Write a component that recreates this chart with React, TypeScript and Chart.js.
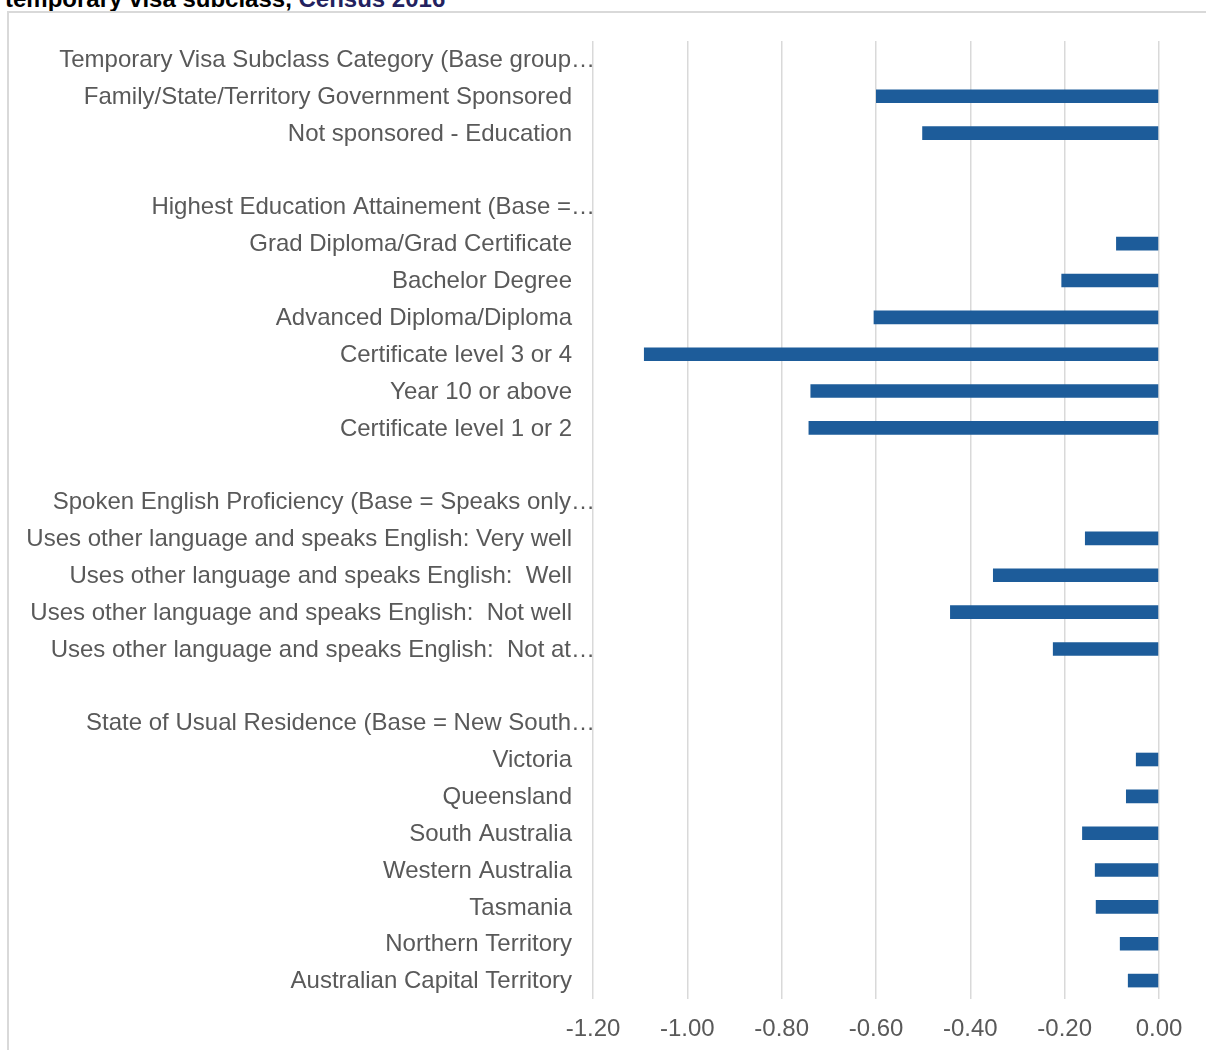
import React, { useEffect, useRef } from "react";
import { Chart, registerables } from "chart.js";

Chart.register(...registerables);

const categoryLabels: string[] = [
  "Temporary Visa Subclass Category (Base group…",
  "Family/State/Territory Government Sponsored",
  "Not sponsored - Education",
  "",
  "Highest Education Attainement (Base =…",
  "Grad Diploma/Grad Certificate",
  "Bachelor Degree",
  "Advanced Diploma/Diploma",
  "Certificate level 3 or 4",
  "Year 10 or above",
  "Certificate level 1 or 2",
  "",
  "Spoken English Proficiency (Base = Speaks only…",
  "Uses other language and speaks English: Very well",
  "Uses other language and speaks English:  Well",
  "Uses other language and speaks English:  Not well",
  "Uses other language and speaks English:  Not at…",
  "",
  "State of Usual Residence (Base = New South…",
  "Victoria",
  "Queensland",
  "South Australia",
  "Western Australia",
  "Tasmania",
  "Northern Territory",
  "Australian Capital Territory",
];

const coefficientValues: (number | null)[] = [
  null, -0.6, -0.502, null,
  null, -0.091, -0.207, -0.605, -1.092, -0.739, -0.743, null,
  null, -0.157, -0.352, -0.443, -0.225, null,
  null, -0.049, -0.07, -0.163, -0.136, -0.134, -0.083, -0.066,
];

const xMin = -1.2;
const xMax = 0;
const xStep = 0.2;

const LABEL_FONT = '24px "Liberation Sans", Arial, sans-serif';
const LABEL_COLOR = "#595959";

const categoryLabelPlugin = {
  id: "categoryLabels",
  afterDraw(chart: any) {
    const { ctx, chartArea } = chart;
    const yScale = chart.scales.y;
    ctx.save();
    ctx.font = LABEL_FONT;
    ctx.fillStyle = LABEL_COLOR;
    ctx.textAlign = "right";
    ctx.textBaseline = "middle";
    categoryLabels.forEach((label, i) => {
      if (!label) return;
      const y = yScale.getPixelForTick(i);
      const truncated = label.endsWith("…");
      const x = truncated ? chartArea.left + 2 : chartArea.left - 21;
      ctx.fillText(label, x, y + 1);
    });
    ctx.restore();
  },
};

export default function App() {
  const canvasRef = useRef<HTMLCanvasElement | null>(null);

  useEffect(() => {
    if (!canvasRef.current) return;
    const chart = new Chart(canvasRef.current, {
      type: "bar",
      data: {
        labels: categoryLabels,
        datasets: [
          {
            data: coefficientValues as any,
            backgroundColor: "#1d5c9a",
            borderWidth: 0,
            barPercentage: 0.37,
            categoryPercentage: 1,
          },
        ],
      },
      options: {
        indexAxis: "y",
        responsive: false,
        animation: false,
        devicePixelRatio: 1,
        layout: { padding: { top: 41, right: 47, bottom: 0, left: 0 } },
        plugins: {
          legend: { display: false },
          tooltip: { enabled: false },
          title: { display: false },
        },
        scales: {
          x: {
            type: "linear",
            min: xMin,
            max: xMax,
            ticks: {
              stepSize: xStep,
              padding: 16,
              color: LABEL_COLOR,
              font: { family: '"Liberation Sans", Arial, sans-serif', size: 24 },
              callback: (v: any) => {
                const n = Number(v);
                return Math.abs(n) < 1e-9 ? "0.00" : n.toFixed(2);
              },
            },
            grid: { color: "#d9d9d9", lineWidth: 1.5, drawTicks: false },
            border: { display: false },
            afterFit: (scale: any) => {
              scale.height = 51;
            },
          },
          y: {
            type: "category",
            ticks: { display: false },
            grid: { display: false },
            border: { display: false },
            afterFit: (scale: any) => {
              scale.width = 593;
            },
          },
        },
      },
      plugins: [categoryLabelPlugin],
    } as any);
    return () => chart.destroy();
  }, []);

  return (
    <div
      style={{
        position: "fixed",
        left: 0,
        top: 0,
        width: 1206,
        height: 1050,
        overflow: "hidden",
        background: "#ffffff",
      }}
    >
      <div
        style={{
          position: "absolute",
          left: 5,
          top: -15,
          fontFamily: '"Liberation Sans", Arial, sans-serif',
          fontWeight: "bold",
          fontSize: 24,
          lineHeight: "28px",
          color: "#000000",
          whiteSpace: "nowrap",
        }}
      >
        temporary visa subclass, <span style={{ color: "#23215e" }}>Census 2016</span>
      </div>
      <div
        style={{
          position: "absolute",
          left: 7,
          top: 11,
          width: 1300,
          height: 1200,
          border: "2px solid #d9d9d9",
          boxSizing: "border-box",
        }}
      />
      <canvas
        ref={canvasRef}
        width={1206}
        height={1050}
        style={{ position: "absolute", left: 0, top: 0, width: 1206, height: 1050 }}
      />
    </div>
  );
}
